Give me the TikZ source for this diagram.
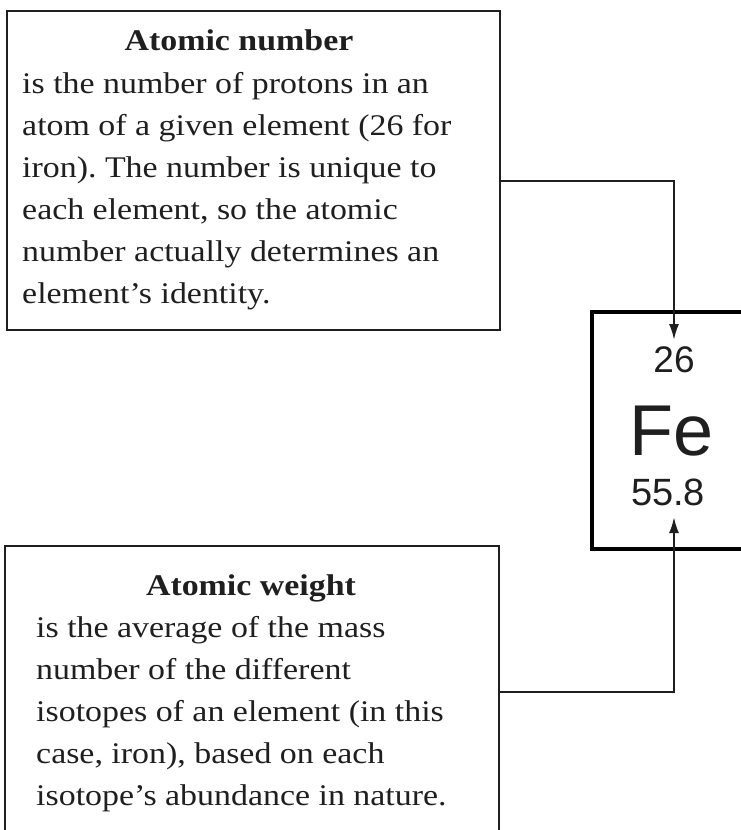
\documentclass[tikz,border=0pt]{standalone}
\usepackage{fontspec}
\setmainfont{Liberation Serif}[FakeStretch=1.13]
\newfontfamily\elsans{Liberation Sans}
\usetikzlibrary{arrows.meta}
\definecolor{ink}{gray}{0.12}
\frenchspacing
\begin{document}
\begin{tikzpicture}[x=1pt,y=-1pt,
  card/.style={draw=ink, line width=2.5pt, inner sep=0pt, outer sep=0pt, anchor=north west},
  elbox/.style={draw=black, line width=4pt, inner sep=0pt, outer sep=0pt, anchor=north west},
  headtxt/.style={anchor=base, inner sep=0pt, text=ink, font=\fontsize{30}{42}\selectfont\bfseries},
  bodytxt/.style={anchor=base west, inner sep=0pt, text=ink, font=\fontsize{30}{42}\selectfont},
  symtxt/.style={anchor=base, inner sep=0pt, text=ink},
  conn/.style={draw=ink, line width=2.2pt, -{Latex[length=16pt,width=10pt]}}]
\useasboundingbox[fill=white] (0,0) rectangle (741,830);
\begin{scope}
\clip (0,0) rectangle (741,830);
% boxes
\node[card, minimum width=493pt, minimum height=319pt] (abox) at (7,11) {};
\node[card, minimum width=494pt, minimum height=330pt] (wbox) at (5,546) {};
\node[elbox, minimum width=200pt, minimum height=237pt] (fe) at (592,312) {};
% top text
\node[headtxt] (ahead) at (239,50) {Atomic number};
\node[bodytxt] (a1) at (22,93) {is the number of protons in an};
\node[bodytxt] (a2) at (22,135) {atom of a given element (26 for};
\node[bodytxt] (a3) at (22,177) {iron). The number is unique to};
\node[bodytxt] (a4) at (22,219) {each element, so the atomic};
\node[bodytxt] (a5) at (22,261) {number actually determines an};
\node[bodytxt] (a6) at (22,303) {element’s identity.};
% bottom text
\node[headtxt] (whead) at (251,595) {Atomic weight};
\node[bodytxt] (w1) at (36,637) {is the average of the mass};
\node[bodytxt] (w2) at (36,679) {number of the different};
\node[bodytxt] (w3) at (36,721) {isotopes of an element (in this};
\node[bodytxt] (w4) at (36,763) {case, iron), based on each};
\node[bodytxt] (w5) at (36,805) {isotope’s abundance in nature.};
% element
\node[symtxt, font=\elsans\fontsize{37}{40}\selectfont] (num) at (674,372) {26};
\node[symtxt, font=\elsans\fontsize{72}{80}\selectfont] (sym) at (672,455) {Fe};
\node[symtxt, font=\elsans\fontsize{38}{40}\selectfont] (wt) at (668,505) {55.8};
% connectors
\coordinate (tipA) at (674,340);
\coordinate (tipW) at (674,517);
\draw[conn] (abox.east |- 0,181) -| (tipA);
\draw[conn] (wbox.east |- 0,692) -| (tipW);
\end{scope}
\end{tikzpicture}
\end{document}
